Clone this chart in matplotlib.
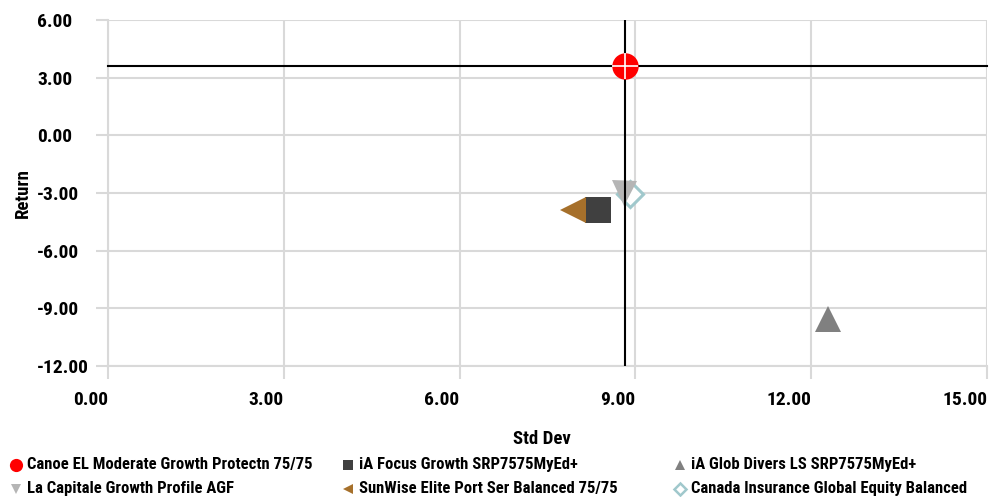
import matplotlib
matplotlib.use("Agg")
import matplotlib.pyplot as plt
from matplotlib import font_manager
from matplotlib.lines import Line2D

# pick a condensed bold sans if one is installed
_fonts = font_manager.fontManager.ttflist
_names = {f.name for f in _fonts}
condensed = False
if "Liberation Sans Narrow" in _names:
    plt.rcParams["font.family"] = ["Liberation Sans Narrow", "DejaVu Sans"]
    condensed = True
elif "Roboto Condensed" in _names:
    plt.rcParams["font.family"] = ["Roboto Condensed", "DejaVu Sans"]
    condensed = True
elif any(f.name == "DejaVu Sans" and "condensed" in str(f.stretch) for f in _fonts):
    plt.rcParams["font.family"] = ["DejaVu Sans"]
    plt.rcParams["font.stretch"] = "condensed"
    condensed = True
else:
    plt.rcParams["font.family"] = ["DejaVu Sans"]
plt.rcParams["font.weight"] = "bold"

# Data
names = [
    "Canoe EL Moderate Growth Protectn 75/75",
    "iA Focus Growth SRP7575MyEd+",
    "iA Glob Divers LS SRP7575MyEd+",
    "La Capitale Growth Profile AGF",
    "SunWise Elite Port Ser Balanced 75/75",
    "Canada Insurance Global Equity Balanced",
]
std_dev = [8.82, 8.37, 12.29, 8.81, 7.94, 8.91]
returns = [3.61, -3.91, -9.54, -3.00, -3.91, -3.05]
markers = ["o", "s", "^", "v", "<", "D"]
colors = ["#ff0000", "#404040", "#808080", "#b5b5b5", "#a6702b", "#a0c8cc"]
hollow = [False, False, False, False, False, True]

x_ticks = [0, 3, 6, 9, 12, 15]
y_ticks = [6, 3, 0, -3, -6, -9, -12]

tick_fs = 14 if condensed else 11.5
lab_fs = 13.5 if condensed else 11.5
leg_fs = 12 if condensed else 9.5

fig = plt.figure(figsize=(9.89, 4.97), dpi=100)
ax = fig.add_axes([108 / 989, 1 - 366 / 497, 879 / 989, 346 / 497])

ax.set_xlim(0, 15)
ax.set_ylim(-12, 6)
ax.set_xticks(x_ticks)
ax.set_yticks(y_ticks)
ax.set_xticklabels([f"{v:.2f}" for v in x_ticks], fontsize=tick_fs,
                   fontweight="bold", ha="right")
ax.set_yticklabels([f"{v:.2f}" for v in y_ticks], fontsize=tick_fs,
                   fontweight="bold", ha="left")
ax.grid(True, color="#d9d9d9", linewidth=1.5)
ax.set_axisbelow(True)
for s in ["top", "right"]:
    ax.spines[s].set_visible(False)
for s in ["left", "bottom"]:
    ax.spines[s].set_color("#d9d9d9")
    ax.spines[s].set_linewidth(1.5)
ax.tick_params(axis="both", colors="#d9d9d9", labelcolor="black", length=9, width=1.5)
ax.tick_params(axis="y", pad=42)
ax.tick_params(axis="x", pad=9)

ax.set_xlabel("Std Dev", fontsize=lab_fs, fontweight="bold", va="top")
ax.xaxis.set_label_coords(0.494, -0.185)
ax.set_ylabel("Return", fontsize=lab_fs, fontweight="bold")
ax.yaxis.set_label_coords(-0.087, 0.5)

# crosshair through the first fund
ax.axvline(std_dev[0], color="black", linewidth=1.5, zorder=3)
ax.axhline(returns[0], color="black", linewidth=1.5, zorder=3, clip_on=False)

sizes = {"o": 19, "s": 19, "^": 18.5, "v": 18, "<": 18.5, "D": 13.5}
for i in range(len(names)):
    ms = sizes[markers[i]]
    z = 4 if i == 0 else 2
    if hollow[i]:
        ax.plot(std_dev[i], returns[i], marker=markers[i], markersize=ms,
                markerfacecolor="white", markeredgecolor=colors[i],
                markeredgewidth=2.2, linestyle="none", zorder=1.9)
    else:
        ax.plot(std_dev[i], returns[i], marker=markers[i], markersize=ms,
                color=colors[i], markeredgewidth=0, linestyle="none", zorder=z)
ax.plot(std_dev[0], returns[0], marker="+", markersize=19, color="white",
        markeredgewidth=1.2, linestyle="none", zorder=5)

# legend, 3 columns x 2 rows
col_x = [16 / 989, 348 / 989, 680 / 989]
row_y = [1 - 465 / 497, 1 - 489 / 497]
leg_sizes = {"o": 9.5, "s": 7.5, "^": 6.5, "v": 6.5, "<": 6.5, "D": 6.5}
for i, name in enumerate(names):
    r, c = divmod(i, 3)
    ms = leg_sizes[markers[i]]
    if hollow[i]:
        h = Line2D([col_x[c]], [row_y[r]], marker=markers[i], markersize=ms,
                   markerfacecolor="none", markeredgecolor=colors[i],
                   markeredgewidth=1.8, linestyle="none", transform=fig.transFigure)
    else:
        h = Line2D([col_x[c]], [row_y[r]], marker=markers[i], markersize=ms,
                   color=colors[i], markeredgewidth=0, linestyle="none",
                   transform=fig.transFigure)
    fig.add_artist(h)
    fig.text(col_x[c] + 11 / 989, row_y[r], name, fontsize=leg_fs,
             fontweight="bold", va="center", ha="left")

fig.savefig("out.png", dpi=100)
